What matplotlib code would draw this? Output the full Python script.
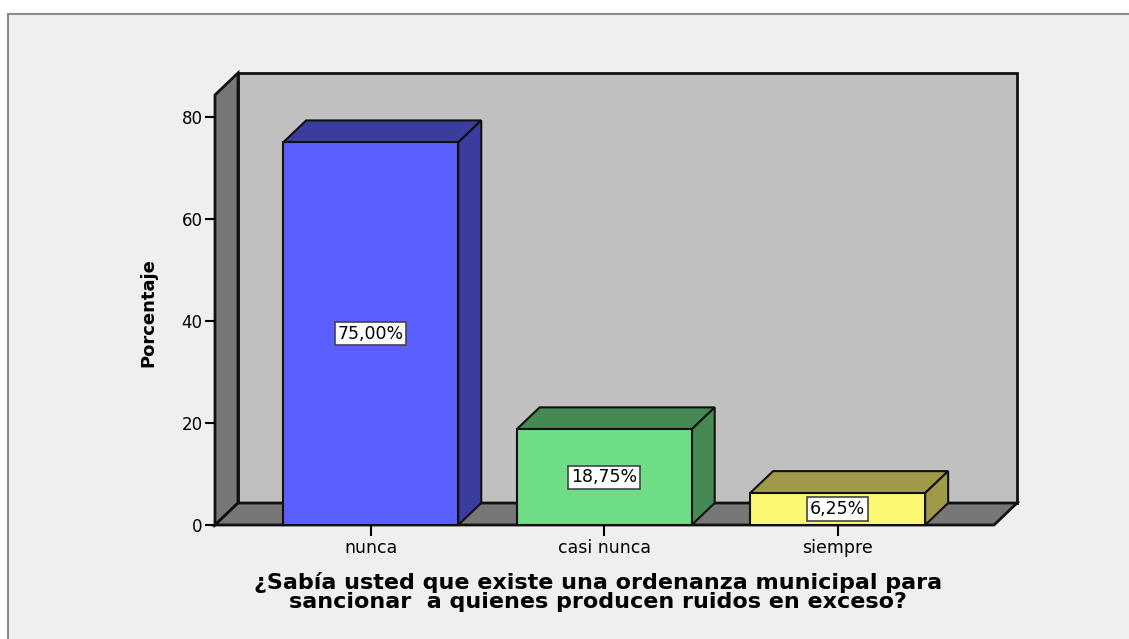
import matplotlib.pyplot as plt
from matplotlib.patches import Polygon, Rectangle

categories = ["nunca", "casi nunca", "siempre"]
values = [75.00, 18.75, 6.25]
labels = ["75,00%", "18,75%", "6,25%"]
front_colors = ["#5b5fff", "#6fdd86", "#fbf873"]
shade_colors = ["#3a3c9e", "#458a52", "#9e9a48"]
yticks = [0, 20, 40, 60, 80]

title = ("¿Sabía usted que existe una ordenanza municipal para\n"
         "sancionar  a quienes producen ruidos en exceso?")

# 3d look of the SPSS chart
x0, x1 = -0.667, 2.67
dx, dy = 0.0985, 4.31
ytop = 84.3
bar_w = 0.75


def poly(ax, pts, fc, lw=1.5, z=2):
    ax.add_patch(Polygon(pts, closed=True, facecolor=fc, edgecolor="#111111",
                         linewidth=lw, joinstyle="miter", zorder=z, clip_on=False))


def main():
    fig = plt.figure(figsize=(11.29, 6.39), dpi=100)
    fig.patch.set_facecolor("white")
    fig.add_artist(Rectangle((8 / 1129, -0.1), 1.2, (639 - 14) / 639 + 0.1,
                             transform=fig.transFigure, facecolor="#efefef",
                             edgecolor="#8a8a8a", linewidth=1.5, zorder=0))

    W, H = 1129, 639
    ax = fig.add_axes([215 / W, (H - 525) / H, (1017 - 215) / W, (525 - 73) / H])
    ax.set_facecolor("none")
    ax.set_xlim(x0, x1 + dx)
    ax.set_ylim(0, ytop + dy)
    for s in ax.spines.values():
        s.set_visible(False)

    # back wall, left wall, floor
    poly(ax, [(x0 + dx, dy), (x1 + dx, dy), (x1 + dx, ytop + dy), (x0 + dx, ytop + dy)],
         "#c0c0c0", lw=2, z=1)
    poly(ax, [(x0, 0), (x0 + dx, dy), (x0 + dx, ytop + dy), (x0, ytop)],
         "#777777", lw=2, z=1)
    poly(ax, [(x0, 0), (x1, 0), (x1 + dx, dy), (x0 + dx, dy)],
         "#777777", lw=2, z=1)

    xs = range(len(categories))
    for i, v in zip(xs, values):
        l, r = i - bar_w / 2, i + bar_w / 2
        poly(ax, [(l, v), (r, v), (r + dx, v + dy), (l + dx, v + dy)], shade_colors[i])
        poly(ax, [(r, 0), (r + dx, dy), (r + dx, v + dy), (r, v)], shade_colors[i])
        poly(ax, [(l, 0), (r, 0), (r, v), (l, v)], front_colors[i], z=3)
        ax.text(i, v / 2, labels[i], ha="center", va="center", fontsize=12.5,
                zorder=4, bbox=dict(boxstyle="square,pad=0.15", facecolor="white",
                                    edgecolor="#444444", linewidth=1.2))

    ax.set_yticks(yticks)
    ax.set_yticklabels([str(t) for t in yticks], fontsize=12)
    ax.set_xticks(list(xs))
    ax.set_xticklabels(categories, fontsize=12.5)
    ax.tick_params(axis="y", direction="out", length=7, width=1.5, pad=2)
    ax.tick_params(axis="x", direction="out", length=8, width=1.5, pad=2)

    ax.set_ylabel("Porcentaje", fontsize=13, fontweight="bold")
    ax.yaxis.set_label_coords(-0.072, 0.47)
    fig.text(598 / W, 1 - 592 / H, title, ha="center", va="center", fontsize=16,
             fontweight="bold", linespacing=0.95)

    fig.savefig("out.png", dpi=100, facecolor=fig.get_facecolor())


if __name__ == '__main__':
    main()
